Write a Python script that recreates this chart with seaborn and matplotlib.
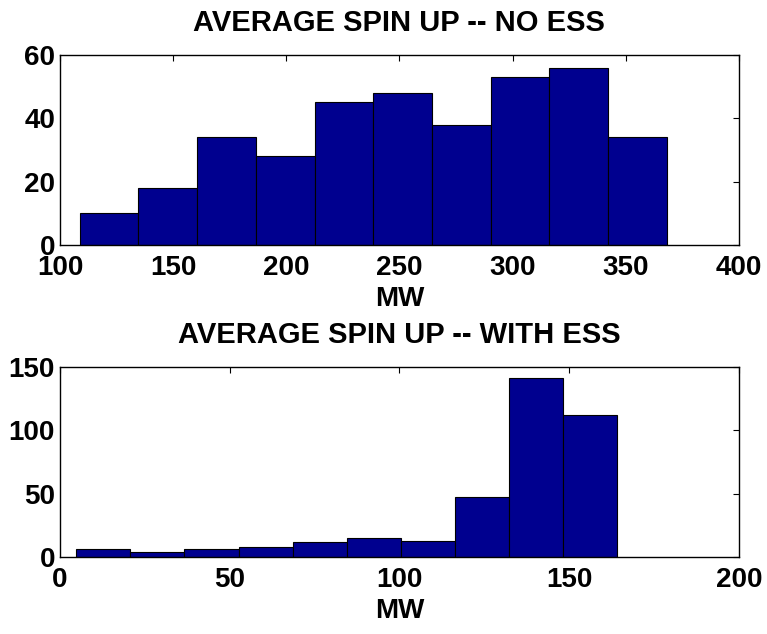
import matplotlib
matplotlib.use("Agg")
import matplotlib.pyplot as plt
import seaborn as sns
import numpy as np
import pandas as pd

# --- data ---
no_ess_edges = [108.7, 134.65, 160.6, 186.55, 212.5, 238.45, 264.4, 290.35, 316.3, 342.25, 368.2]
no_ess_counts = [10, 18, 34, 28, 45, 48, 38, 53, 56, 34]
with_ess_edges = [4.8, 20.74, 36.68, 52.62, 68.56, 84.5, 100.44, 116.38, 132.32, 148.26, 164.2]
with_ess_counts = [6, 4, 6, 8, 12, 15, 13, 47, 141, 112]
titles = ["AVERAGE SPIN UP -- NO ESS", "AVERAGE SPIN UP -- WITH ESS"]
xlims = [(100, 400), (0, 200)]
ylims = [(0, 60), (0, 150)]
xticks = [[100, 150, 200, 250, 300, 350, 400], [0, 50, 100, 150, 200]]
yticks = [[0, 20, 40, 60], [0, 50, 100, 150]]

sns.set_style("white")
plt.rcParams['font.family'] = ['Liberation Sans', 'DejaVu Sans']
plt.rcParams['font.weight'] = 'bold'
plt.rcParams['text.color'] = 'black'
plt.rcParams['axes.labelcolor'] = 'black'
plt.rcParams['xtick.color'] = 'black'
plt.rcParams['ytick.color'] = 'black'

fig = plt.figure(figsize=(7.67, 6.34), dpi=100)
ax1 = fig.add_axes([0.0782, 0.6136, 0.885, 0.2997])
ax2 = fig.add_axes([0.0782, 0.1215, 0.885, 0.2997])

for ax, edges, counts, title, xl, yl, xt, yt in zip(
        [ax1, ax2],
        [no_ess_edges, with_ess_edges],
        [no_ess_counts, with_ess_counts],
        titles, xlims, ylims, xticks, yticks):
    centers = [(a + b) / 2 for a, b in zip(edges[:-1], edges[1:])]
    df = pd.DataFrame({"x": centers, "w": counts})
    sns.histplot(data=df, x="x", weights="w", bins=edges, ax=ax,
                 color="#00008F", edgecolor="black", linewidth=0.8, alpha=1.0)
    ax.set_xlim(*xl)
    ax.set_ylim(*yl)
    ax.set_xticks(xt)
    ax.set_yticks(yt)
    ax.set_xlabel("MW", fontsize=20, fontweight='bold', labelpad=4, color='black')
    ax.set_ylabel("")
    ax.set_title(title, fontsize=21, fontweight='bold', pad=17, color='black')
    ax.tick_params(axis='x', pad=7)
    ax.tick_params(axis='y', pad=3.5)
    ax.tick_params(axis='both', direction='in', length=4, width=0.8,
                   top=True, right=True, labelsize=20, color='black',
                   labelcolor='black')
    for lab in ax.get_xticklabels() + ax.get_yticklabels():
        lab.set_fontweight('bold')
    for s in ax.spines.values():
        s.set_visible(True)
        s.set_color('black')
        s.set_linewidth(1.0)

fig.savefig("out.png", dpi=100)
